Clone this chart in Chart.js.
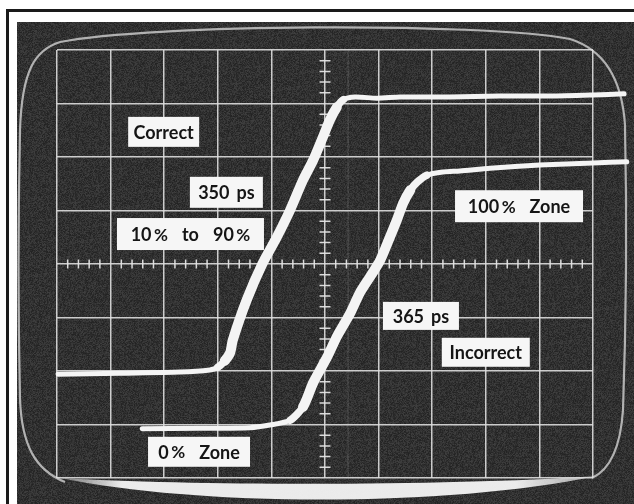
<!DOCTYPE html>
<html><head><meta charset="utf-8">
<script src="https://cdn.jsdelivr.net/npm/chart.js@4.4.1/dist/chart.umd.min.js"></script>
<style>html,body{margin:0;padding:0;background:#fff;overflow:hidden}#wrap{width:634px;height:504px;position:relative}canvas{display:block}</style>
</head><body><div id="wrap"><canvas id="c" width="634" height="504"></canvas></div>
<script>
// ---- data (graticule divisions: x 0..10, y 0..8) ----
const xMajor = [0,1,2,3,4,5,6,7,8,9,10];
const yMajor = [0,1,2,3,4,5,6,7,8];
const correctX = [0.02,1.18,2.29,2.85,3.00,3.13,3.23,3.28,3.54,3.84,4.10,4.35,4.59,4.78,4.96,5.09,5.22,5.34,5.56,5.97,6.40,7.33,8.26,9.20,10.0,10.58];
const correctY = [1.94,1.96,1.98,2.02,2.07,2.19,2.34,2.58,3.33,4.02,4.50,5.01,5.57,5.94,6.37,6.69,6.93,7.07,7.12,7.10,7.12,7.12,7.14,7.14,7.16,7.18];
const incorrectX = [1.59,2.67,3.60,3.97,4.35,4.59,4.78,5.04,5.22,5.47,5.65,5.84,6.03,6.21,6.34,6.46,6.59,6.72,6.90,7.20,7.52,8.08,9.01,10.0,10.63];
const incorrectY = [0.92,0.93,0.94,0.99,1.08,1.33,1.78,2.26,2.64,3.08,3.46,3.76,4.07,4.50,4.82,5.14,5.38,5.53,5.66,5.72,5.74,5.79,5.85,5.89,5.91];
const labelTexts = ['Correct','350 ps','10%  to  90%','100%  Zone','365 ps','Incorrect','0%  Zone'];
const labelAtX = [1.99,3.16,2.49,8.62,6.79,8.00,2.65];
const labelAtY = [6.47,5.34,4.56,5.08,3.03,2.35,0.49];
// ---- styles ----
const labelBox = [[71,30],[73,31],[147,32],[128,32],[76,28],[88,29],[102,30]];

function pts(xs, ys){ return xs.map((x,i)=>({x:x,y:ys[i]})); }
function segW(ctx){
  const a=ctx.p0.parsed, b=ctx.p1.parsed;
  const s=Math.abs((b.y-a.y)/((b.x-a.x)||1e-6));
  return s>1.2?10:(s>0.4?7.5:5);
}

const FONT='bold 18px Lato, "Open Sans", sans-serif';
const PFONT='bold 17px Lato, "Open Sans", sans-serif';
const PGAP=2.5;
function wordWidth(c,w){
  const i=w.indexOf('%');
  c.font=FONT;
  if(i<0){ return c.measureText(w).width; }
  const a=c.measureText(w.slice(0,i)).width;
  c.font=PFONT; const b=c.measureText('%').width;
  return a+PGAP+b;
}
function drawWord(c,w,x,y){
  const i=w.indexOf('%');
  c.font=FONT;
  if(i<0){ c.fillText(w,x,y); return; }
  const head=w.slice(0,i); c.fillText(head,x,y);
  const a=c.measureText(head).width;
  c.font=PFONT; c.fillText('%',x+a+PGAP,y);
}

const screenPlugin = {
  id:'screen',
  beforeDraw(chart){
    const c=chart.ctx, W=chart.width, H=chart.height, ca=chart.chartArea;
    c.save();
    c.fillStyle='#ffffff'; c.fillRect(0,0,W,H);
    c.fillStyle='#1a1a1a'; c.fillRect(6,9,W-6,3); c.fillRect(6,9,3,H-9);
    const sx=17, sy=22, sw=W-sx, sh=H-sy;
    const off=document.createElement('canvas'); off.width=sw; off.height=sh;
    const oc=off.getContext('2d'); const img=oc.createImageData(sw,sh);
    let seed=12345;
    for(let i=0;i<sw*sh;i++){
      seed=(seed*1103515245+12345)&0x7fffffff;
      const n=(seed>>16)%40;
      const v=34+n*0.75;
      img.data[i*4]=v; img.data[i*4+1]=v; img.data[i*4+2]=v; img.data[i*4+3]=255;
    }
    oc.putImageData(img,0,0);
    c.drawImage(off,sx,sy);
    const L=ca.left, R=ca.right, T=ca.top, B=ca.bottom;
    c.strokeStyle='rgba(200,200,200,0.85)'; c.lineWidth=2.2;
    c.beginPath();
    c.moveTo(L+3,T-8);
    c.bezierCurveTo(L+93,T-26,R-113,T-28,R-23,T-11);
    c.bezierCurveTo(R+12,T,R+29,T+30,R+32,T+75);
    c.quadraticCurveTo(R+35,T+220,R+30,B-68);
    c.bezierCurveTo(R+27,B-23,R+12,B-6,R-1,B);
    c.moveTo(L+8,B+4);
    c.bezierCurveTo(L-22,B-8,L-35,B-33,L-37,B-78);
    c.quadraticCurveTo(L-40,T+215,L-37,T+80);
    c.bezierCurveTo(L-35,T+20,L-22,T,L+3,T-8);
    c.stroke();
    const g=c.createLinearGradient(L,0,R+4,0);
    g.addColorStop(0,'rgba(235,235,235,0.35)');
    g.addColorStop(0.12,'rgba(245,245,245,0.95)');
    g.addColorStop(0.85,'rgba(245,245,245,0.95)');
    g.addColorStop(1,'rgba(240,240,240,0.6)');
    c.fillStyle=g;
    c.beginPath();
    c.moveTo(L+3,B);
    c.bezierCurveTo(L+143,B+8,R-143,B+8,R+4,B-2);
    c.bezierCurveTo(R-143,B+29,L+143,B+29,L+3,B);
    c.fill();
    c.restore();
  },
  beforeDatasetsDraw(chart){
    const c=chart.ctx, xs=chart.scales.x, ys=chart.scales.y;
    c.save();
    c.strokeStyle='rgba(200,200,200,0.18)'; c.lineWidth=1.2;
    c.beginPath(); c.moveTo(xs.getPixelForValue(5.43),ys.getPixelForValue(8)); c.lineTo(xs.getPixelForValue(5.43),ys.getPixelForValue(0)); c.stroke();
    c.strokeStyle='rgba(228,228,228,0.95)'; c.lineWidth=1.5;
    c.beginPath();
    const cy=ys.getPixelForValue(4), cx=xs.getPixelForValue(5);
    for(let k=1;k<50;k++){ if(k%5===0) continue; const px=xs.getPixelForValue(k/5); c.moveTo(px,cy-4.5); c.lineTo(px,cy+4.5); }
    for(let k=1;k<40;k++){ if(k%5===0) continue; const py=ys.getPixelForValue(k/5); c.moveTo(cx-5.5,py); c.lineTo(cx+5.5,py); }
    c.stroke();
    c.restore();
  },
  afterDatasetsDraw(chart){
    const c=chart.ctx, xs=chart.scales.x, ys=chart.scales.y;
    c.save();
    c.textBaseline='middle';
    labelTexts.forEach((t,i)=>{
      const px=xs.getPixelForValue(labelAtX[i]), py=ys.getPixelForValue(labelAtY[i]);
      const [w,h]=labelBox[i];
      c.fillStyle='#f6f6f6';
      c.fillRect(px-w/2,py-h/2,w,h);
      const parts=t.split(' '); const gap=7;
      let tw=0; parts.forEach((p,j)=>{ tw+=p?wordWidth(c,p):0; if(j<parts.length-1) tw+=gap; });
      let x0=px-tw/2;
      c.fillStyle='#151515';
      parts.forEach((p)=>{ if(p){ drawWord(c,p,x0,py+1); x0+=wordWidth(c,p); } x0+=gap; });
    });
    c.restore();
  }
};

const traceStyle = {
  showLine:true, pointRadius:0, borderColor:'#f4f4f4', backgroundColor:'#f4f4f4',
  borderCapStyle:'round', borderJoinStyle:'round', tension:0.25, clip:false,
  segment:{ borderWidth: segW }
};

new Chart(document.getElementById('c'), {
  type:'scatter',
  data:{ datasets:[
    Object.assign({label:'Correct', data:pts(correctX,correctY)}, traceStyle),
    Object.assign({label:'Incorrect', data:pts(incorrectX,incorrectY)}, traceStyle)
  ]},
  options:{
    responsive:false, animation:false, devicePixelRatio:1,
    layout:{ padding:{left:57, top:50, right:41, bottom:26} },
    plugins:{ legend:{display:false}, tooltip:{enabled:false} },
    scales:{
      x:{ type:'linear', afterDataLimits:(s)=>{ s.min=0; s.max=10; },
          afterBuildTicks:(s)=>{ s.ticks=xMajor.map(v=>({value:v})); },
          ticks:{display:false}, border:{display:false},
          grid:{ color:'rgba(222,222,222,0.9)', lineWidth:1.5, drawTicks:false } },
      y:{ type:'linear', afterDataLimits:(s)=>{ s.min=0; s.max=8; },
          afterBuildTicks:(s)=>{ s.ticks=yMajor.map(v=>({value:v})); },
          ticks:{display:false}, border:{display:false},
          grid:{ color:'rgba(222,222,222,0.9)', lineWidth:1.5, drawTicks:false } }
    }
  },
  plugins:[screenPlugin]
});
</script>
</body></html>
